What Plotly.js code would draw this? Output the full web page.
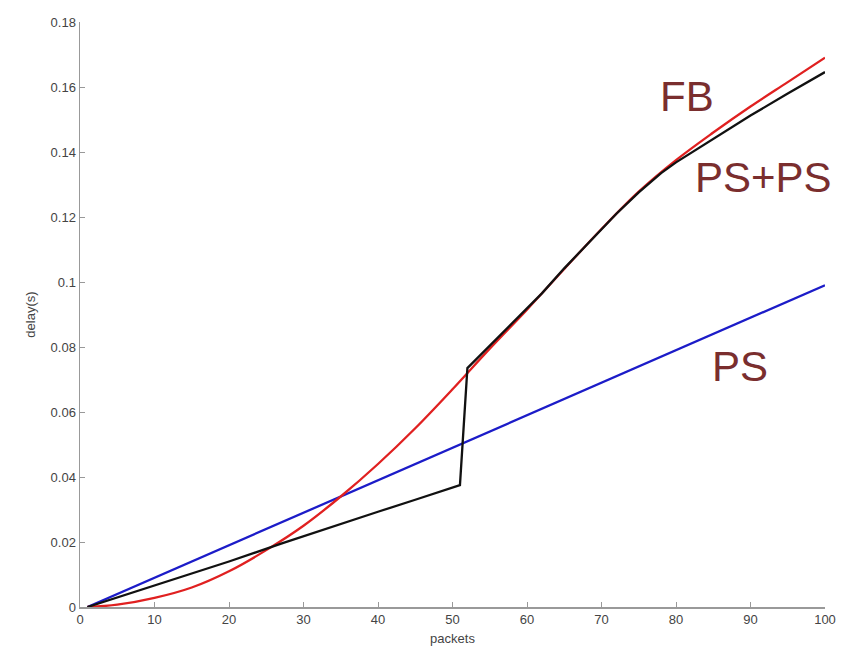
<!DOCTYPE html>
<html>
<head>
<meta charset="utf-8">
<script src="https://cdn.plot.ly/plotly-3.0.1.min.js"></script>
<style>html,body{margin:0;padding:0;background:#fff;}#chart{width:859px;height:666px;}</style>
</head>
<body>
<div id="chart"></div>
<script>
// Data
const psX = [1, 10, 20, 30, 40, 50, 60, 70, 80, 90, 100];
const psY = [0, 0.009, 0.019, 0.029, 0.039, 0.049, 0.059, 0.069, 0.079, 0.089, 0.099];

const fbX = [1, 5, 10, 15, 20, 25, 30, 35, 40, 45, 50, 55, 60, 65, 70, 75, 80, 85, 90, 95, 100];
const fbY = [0, 0.0007, 0.0028, 0.006, 0.011, 0.0175, 0.025, 0.034, 0.044, 0.055, 0.067, 0.0795, 0.0915, 0.104, 0.1163, 0.1278, 0.1375, 0.146, 0.154, 0.1615, 0.169];

const pspsX = [1, 10, 20, 27, 30, 40, 45, 51, 52, 53, 54, 56, 58, 60, 62, 65, 68, 70, 72, 75, 78, 80, 85, 90, 95, 100];
const pspsY = [0, 0.0066, 0.0140, 0.0195, 0.0218, 0.0293, 0.033, 0.0375, 0.0735, 0.0758, 0.0781, 0.0826, 0.0871, 0.0918, 0.0965, 0.1042, 0.1115, 0.1163, 0.1210, 0.1276, 0.1335, 0.1368, 0.1440, 0.1512, 0.1580, 0.1646];

const xTicks = [0, 10, 20, 30, 40, 50, 60, 70, 80, 90, 100];
const yTicks = [0, 0.02, 0.04, 0.06, 0.08, 0.1, 0.12, 0.14, 0.16, 0.18];
const yTickText = ["0", "0.02", "0.04", "0.06", "0.08", "0.1", "0.12", "0.14", "0.16", "0.18"];

const labelNames = ["FB", "PS+PS", "PS"];
const labelX = [81.5, 91.7, 88.6];
const labelY = [0.157, 0.1323, 0.074];

const traces = [
  {x: psX, y: psY, mode: 'lines', line: {color: '#1c1cc8', width: 2.3}, name: 'PS'},
  {x: fbX, y: fbY, mode: 'lines', line: {color: '#e02020', width: 2.3, shape: 'spline'}, name: 'FB'},
  {x: pspsX, y: pspsY, mode: 'lines', line: {color: '#111111', width: 2.3}, name: 'PS+PS'}
];

const annotations = labelNames.map((t, i) => ({
  x: labelX[i], y: labelY[i], xref: 'x', yref: 'y', text: t, showarrow: false,
  font: {family: 'Liberation Sans, Arial, sans-serif', size: 42, color: '#7a2e2e'},
  xanchor: 'center', yanchor: 'middle'
}));

const layout = {
  width: 859, height: 666,
  margin: {l: 80, r: 34, t: 22, b: 59},
  paper_bgcolor: '#ffffff', plot_bgcolor: '#ffffff',
  showlegend: false,
  font: {family: 'Liberation Sans, Arial, sans-serif', size: 12, color: '#333'},
  xaxis: {
    range: [0, 100], tickvals: xTicks, ticks: 'inside', ticklen: 5, tickcolor: '#999',
    showline: true, linecolor: '#999', linewidth: 1.5, showgrid: false, zeroline: false,
    tickfont: {size: 13, color: '#444'},
    title: {text: 'packets', font: {size: 13, color: '#444'}, standoff: 8}
  },
  yaxis: {
    range: [0, 0.18], tickvals: yTicks, ticktext: yTickText, ticks: 'inside', ticklen: 5, tickcolor: '#999',
    showline: true, linecolor: '#999', linewidth: 1.5, showgrid: false, zeroline: false,
    tickfont: {size: 13, color: '#444'},
    title: {text: 'delay(s)', font: {size: 13, color: '#444'}, standoff: 12}
  },
  annotations: annotations
};

Plotly.newPlot('chart', traces, layout, {displayModeBar: false, staticPlot: true});
</script>
</body>
</html>
